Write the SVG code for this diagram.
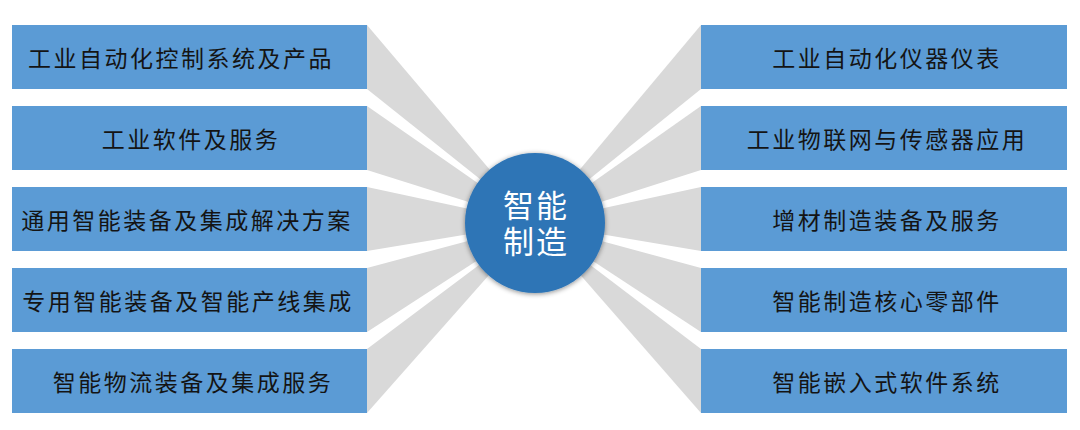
<svg xmlns="http://www.w3.org/2000/svg" width="1080" height="430" viewBox="0 0 1080 430">
<defs>
<style>
.box{fill:#5b9bd5;}
.wedge{fill:#d9d9d9;}
.lbl{font-family:"Noto Sans CJK SC","Noto Sans",sans-serif;font-size:23px;fill:#141414;text-anchor:middle;dominant-baseline:central;letter-spacing:2.5px;}
.ctr{font-family:"Noto Sans CJK SC","Noto Sans",sans-serif;font-size:31px;fill:#ffffff;text-anchor:middle;dominant-baseline:central;letter-spacing:2px;}
</style>
<filter id="sh" x="-20%" y="-20%" width="140%" height="140%">
<feDropShadow dx="0" dy="1" stdDeviation="2.5" flood-color="#000" flood-opacity="0.45"/>
</filter>
</defs>
<rect width="1080" height="430" fill="#ffffff"/>
<g id="connectors">
<polygon class="wedge" points="367,25 367,89 535,223"/>
<polygon class="wedge" points="367,106 367,170 535,223"/>
<polygon class="wedge" points="367,187 367,251 535,223"/>
<polygon class="wedge" points="367,268 367,332 535,223"/>
<polygon class="wedge" points="367,349 367,413 535,223"/>
<polygon class="wedge" points="701,25 701,89 535,223"/>
<polygon class="wedge" points="701,106 701,170 535,223"/>
<polygon class="wedge" points="701,187 701,251 535,223"/>
<polygon class="wedge" points="701,268 701,332 535,223"/>
<polygon class="wedge" points="701,349 701,413 535,223"/>
</g>
<g id="n-l1"><rect class="box" x="12" y="25" width="355" height="64"/><text class="lbl" x="181" y="57">工业自动化控制系统及产品</text></g>
<g id="n-l2"><rect class="box" x="12" y="106" width="355" height="64"/><text class="lbl" x="191" y="138">工业软件及服务</text></g>
<g id="n-l3"><rect class="box" x="12" y="187" width="355" height="64"/><text class="lbl" x="187" y="219">通用智能装备及集成解决方案</text></g>
<g id="n-l4"><rect class="box" x="12" y="268" width="355" height="64"/><text class="lbl" x="188" y="300">专用智能装备及智能产线集成</text></g>
<g id="n-l5"><rect class="box" x="12" y="349" width="355" height="64"/><text class="lbl" x="193" y="381">智能物流装备及集成服务</text></g>
<g id="n-r1"><rect class="box" x="701" y="25" width="366" height="64"/><text class="lbl" x="887" y="57">工业自动化仪器仪表</text></g>
<g id="n-r2"><rect class="box" x="701" y="106" width="366" height="64"/><text class="lbl" x="887" y="138">工业物联网与传感器应用</text></g>
<g id="n-r3"><rect class="box" x="701" y="187" width="366" height="64"/><text class="lbl" x="887" y="219">增材制造装备及服务</text></g>
<g id="n-r4"><rect class="box" x="701" y="268" width="366" height="64"/><text class="lbl" x="887" y="300">智能制造核心零部件</text></g>
<g id="n-r5"><rect class="box" x="701" y="349" width="366" height="64"/><text class="lbl" x="887" y="381">智能嵌入式软件系统</text></g>
<g id="n-center">
<circle cx="535" cy="223" r="70" fill="#2e75b6" filter="url(#sh)"/>
<text class="ctr"><tspan x="536" y="203">智能</tspan><tspan x="536" y="239">制造</tspan></text>
</g>
</svg>
